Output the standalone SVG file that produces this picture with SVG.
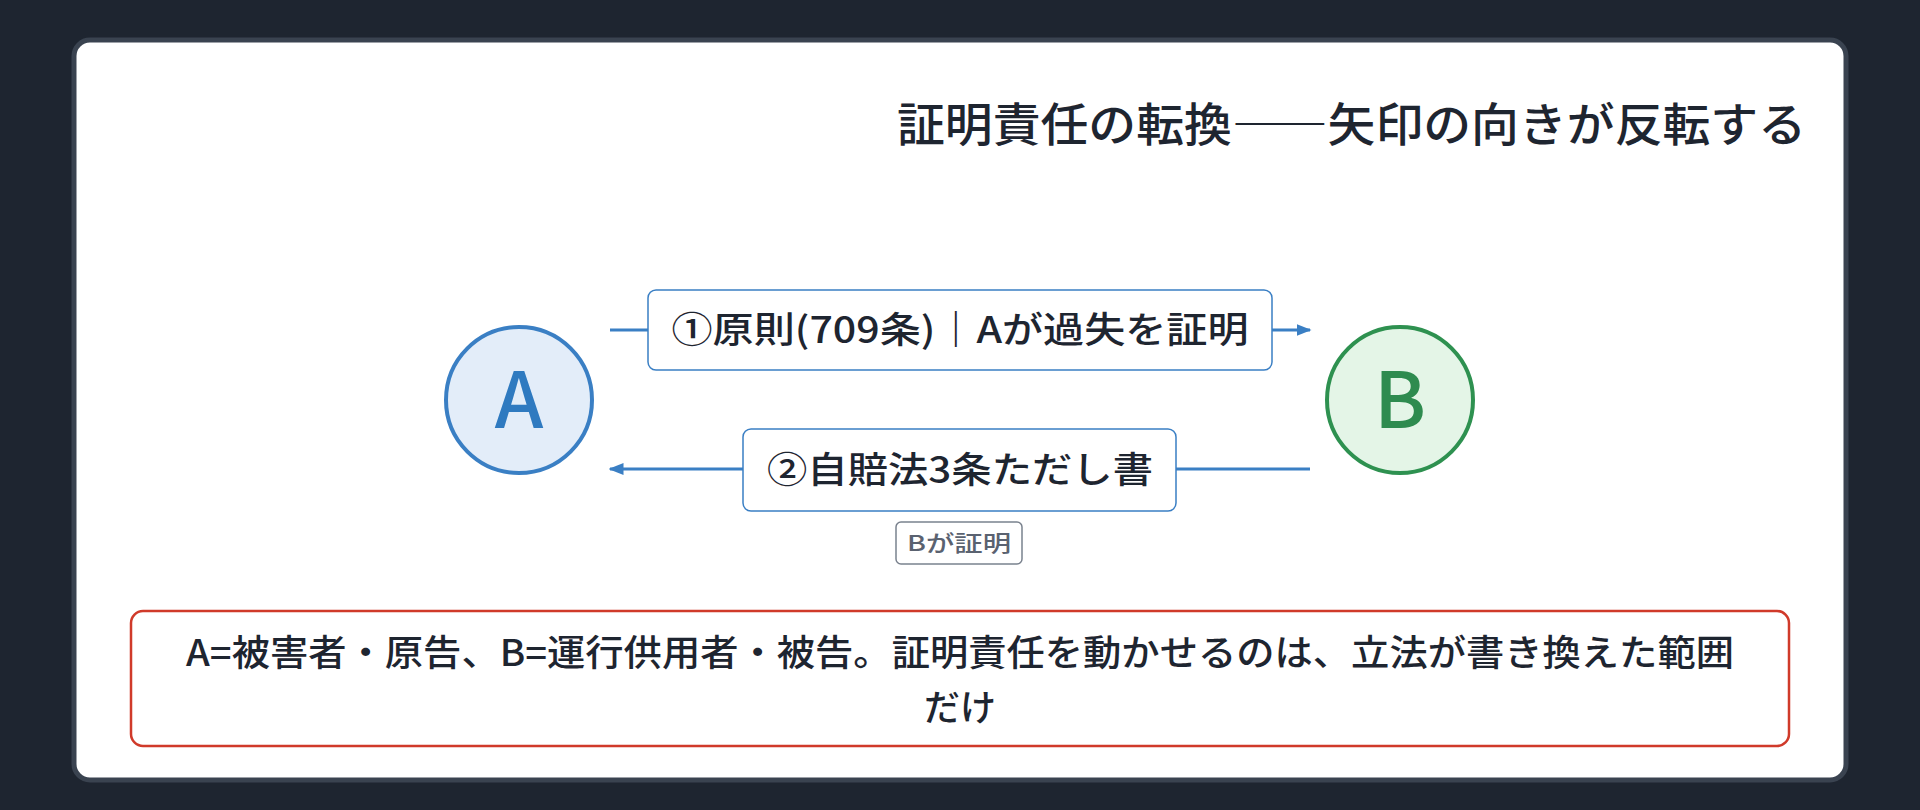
<svg xmlns="http://www.w3.org/2000/svg" width="1920" height="810" viewBox="0 0 1920 810">
<style>
text{font-family:"Noto Sans CJK JP","Liberation Sans",sans-serif;font-weight:500}
.lbl{fill:#fff;stroke:#3a7fc4;stroke-width:1.5}
.lt{font-size:36px;fill:#1e2530;text-anchor:middle}
.edge{stroke:#3a7fc4;stroke-width:3;fill:none}
</style>
<defs>
<marker id="ah" viewBox="0 0 10 10" refX="9" refY="5" markerWidth="5" markerHeight="5" orient="auto"><path d="M0,1L10,5L0,9z" fill="#3a7fc4"/></marker>
</defs>
<rect width="1920" height="810" fill="#1e2530"/>
<rect x="74" y="40" width="1772" height="740" rx="16" fill="#fff" stroke="#3a4350" stroke-width="5"/>
<text x="1806" y="141" font-size="46" fill="#1e2530" text-anchor="end" textLength="909" lengthAdjust="spacingAndGlyphs">証明責任の転換――矢印の向きが反転する</text>
<g id="connectors">
<line class="edge" x1="610" y1="330" x2="1310" y2="330" marker-end="url(#ah)"/>
<line class="edge" x1="1310" y1="469" x2="610" y2="469" marker-end="url(#ah)"/>
<g id="e1label"><rect class="lbl" x="648" y="290" width="624" height="80" rx="8"/><text class="lt" x="960" y="343" textLength="577" lengthAdjust="spacingAndGlyphs">①原則(709条)｜Aが過失を証明</text></g>
<g id="e2label"><rect class="lbl" x="743" y="429" width="433" height="82" rx="8"/><text class="lt" x="960" y="483" textLength="386" lengthAdjust="spacingAndGlyphs">②自賠法3条ただし書</text></g>
<g id="e2sub"><rect x="896" y="522" width="126" height="42" rx="5" fill="#fff" stroke="#7a828e" stroke-width="1.5"/><text x="959" y="551" font-size="22" fill="#5a6270" text-anchor="middle" font-weight="400" textLength="104" lengthAdjust="spacingAndGlyphs">Bが証明</text></g>
</g>
<g id="nodeA"><circle cx="519" cy="400" r="73" fill="#e3edf9" stroke="#3a7fc4" stroke-width="4"/><text x="519" y="428" font-size="78" fill="#2f7ac0" text-anchor="middle" font-family="Noto Sans,sans-serif">A</text></g>
<g id="nodeB"><circle cx="1400" cy="400" r="73" fill="#e4f5e7" stroke="#2e9150" stroke-width="4"/><text x="1400" y="428" font-size="78" fill="#2e8b4f" text-anchor="middle" font-family="Noto Sans,sans-serif">B</text></g>
<g id="note"><rect x="131" y="611" width="1658" height="135" rx="12" fill="#fff" stroke="#d03a2a" stroke-width="2.5"/>
<text class="lt" x="960" y="666" textLength="1548" lengthAdjust="spacingAndGlyphs">A=被害者・原告、B=運行供用者・被告。証明責任を動かせるのは、立法が書き換えた範囲</text>
<text class="lt" x="960" y="721">だけ</text></g>
</svg>
